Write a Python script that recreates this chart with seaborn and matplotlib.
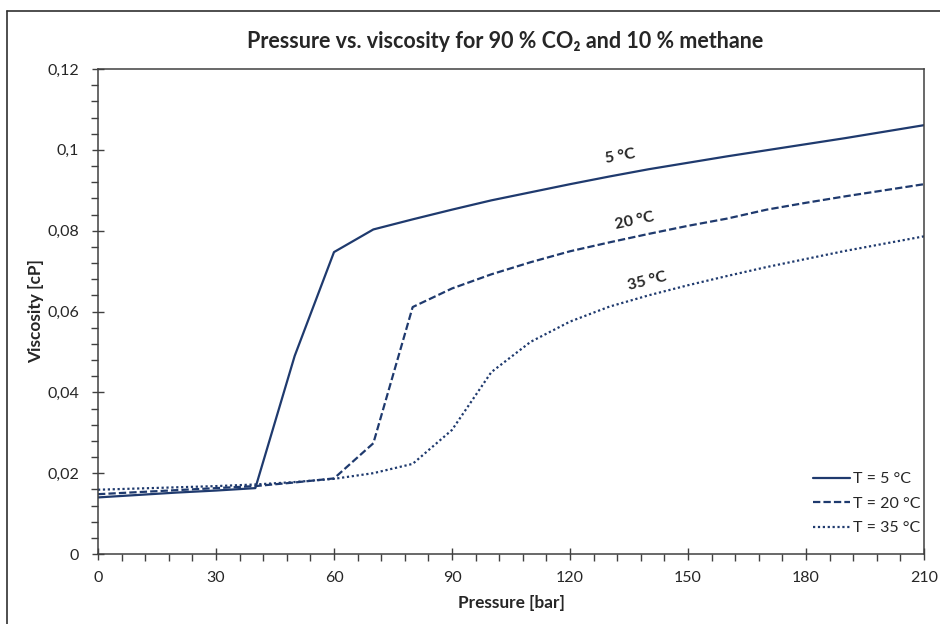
import numpy as np
import pandas as pd
import matplotlib
matplotlib.use("Agg")
import matplotlib.pyplot as plt
from matplotlib.ticker import MultipleLocator, FuncFormatter
from matplotlib.lines import Line2D
import seaborn as sns

# ---- data ----
pressure = [0, 10, 20, 30, 40, 50, 60, 70, 80, 90, 100, 110, 120, 130, 140, 150,
            160, 170, 180, 190, 200, 210]
visc_5 = [0.0140, 0.0146, 0.0152, 0.0157, 0.0163, 0.0490, 0.0747, 0.0803, 0.0828,
          0.0852, 0.0875, 0.0895, 0.0915, 0.0934, 0.0952, 0.0968, 0.0984, 0.0999,
          0.1014, 0.1029, 0.1045, 0.1061]
visc_20 = [0.0148, 0.0153, 0.0158, 0.0163, 0.0168, 0.0177, 0.0187, 0.0274, 0.0611,
           0.0657, 0.0692, 0.0722, 0.0749, 0.0771, 0.0792, 0.0812, 0.0830, 0.0852,
           0.0869, 0.0885, 0.0900, 0.0915]
visc_35 = [0.0159, 0.0162, 0.0165, 0.0168, 0.0172, 0.0178, 0.0186, 0.0200, 0.0223,
           0.0307, 0.0450, 0.0525, 0.0575, 0.0612, 0.0640, 0.0665, 0.0688, 0.0710,
           0.0730, 0.0750, 0.0768, 0.0786]
series_names = ["T = 5 °C", "T = 20 °C", "T = 35 °C"]
curve_labels = ["5 °C", "20 °C", "35 °C"]
label_pos_x = [132.7, 136.5, 139.5]
label_pos_y = [0.0983, 0.0825, 0.0674]
label_rot = [10, 12, 14]

title = "Pressure vs. viscosity for 90 % CO\u2082 and 10 % methane"
xlabel = "Pressure [bar]"
ylabel = "Viscosity [cP]"

df = pd.DataFrame({
    "Pressure": pressure * 3,
    "Viscosity": visc_5 + visc_20 + visc_35,
    "T": [series_names[0]] * len(pressure) + [series_names[1]] * len(pressure)
         + [series_names[2]] * len(pressure),
})

sns.set_theme(style="white")
plt.rcParams["font.family"] = ["Lato", "DejaVu Sans"]

navy = "#1F3A6E"
txt = "#262626"

fig = plt.figure(figsize=(9.4, 6.24), dpi=100)
ax = fig.add_axes([98 / 940, 1 - 554 / 624, 826 / 940, (554 - 69) / 624])

sns.lineplot(data=df, x="Pressure", y="Viscosity", style="T",
             style_order=series_names,
             dashes=["", (3.3, 1.4), (1, 1.2)],
             color=navy, linewidth=1.6, legend=False, ax=ax)

ax.set_xlim(0, 210)
ax.set_ylim(0, 0.12)
ax.xaxis.set_major_locator(MultipleLocator(30))
ax.xaxis.set_minor_locator(MultipleLocator(6))
ax.yaxis.set_major_locator(MultipleLocator(0.02))
ax.yaxis.set_minor_locator(MultipleLocator(0.004))


def comma_fmt(v, pos):
    if abs(v) < 1e-12:
        return "0"
    return ("%g" % round(v, 4)).replace(".", ",")


ax.yaxis.set_major_formatter(FuncFormatter(comma_fmt))
ax.xaxis.set_major_formatter(FuncFormatter(lambda v, p: "%d" % round(v)))

ax.tick_params(axis="both", which="major", direction="inout", length=9, width=1,
               color="#404040", labelsize=11.5, labelcolor=txt)
ax.tick_params(axis="x", which="major", pad=8)
ax.tick_params(axis="y", which="major", pad=9)
ax.tick_params(axis="both", which="minor", direction="out", length=5, width=1,
               color="#404040")
ax.tick_params(axis="x", which="both", bottom=True, top=False)
ax.tick_params(axis="y", which="both", left=True, right=False)

for s in ax.spines.values():
    s.set_visible(True)
    s.set_color("#404040")
    s.set_linewidth(1.1)

ax.set_xlabel(xlabel, fontsize=12.4, fontweight="bold", color=txt)
ax.set_ylabel(ylabel, fontsize=12.4, fontweight="bold", color=txt)
ax.xaxis.set_label_coords(0.5 - 0.5 / 826 * 0 + (511.5 - 511) / 826, -(595 - 554) / 485)
ax.yaxis.set_label_coords(-(98 - 44) / 826, 0.5)

fig.text(0.5375, 1 - 42 / 624, title, ha="center", va="center", fontsize=15.5,
         fontweight="bold", color=txt)

for lbl, lx, ly, rot in zip(curve_labels, label_pos_x, label_pos_y, label_rot):
    ax.text(lx, ly, lbl, ha="center", va="center", rotation=rot, fontsize=11.5,
            fontweight="bold", color=txt)

handles = ax.get_lines()[:3]
ax.legend(handles, series_names, loc="upper left",
          bbox_to_anchor=((813 - 98) / 826, (554 - 472) / 485),
          frameon=False, fontsize=11.5, handlelength=2.3, handletextpad=0.2,
          labelspacing=0.65, borderpad=0, borderaxespad=0, labelcolor=txt)

# outer chart border (left and top visible)
fig.add_artist(Line2D([7 / 940, 7 / 940], [0, 1 - 11 / 624], transform=fig.transFigure,
                      color="#303030", linewidth=1.2))
fig.add_artist(Line2D([7 / 940, 1], [1 - 11 / 624, 1 - 11 / 624], transform=fig.transFigure,
                      color="#303030", linewidth=1.2))

fig.savefig("out.png", dpi=100)
